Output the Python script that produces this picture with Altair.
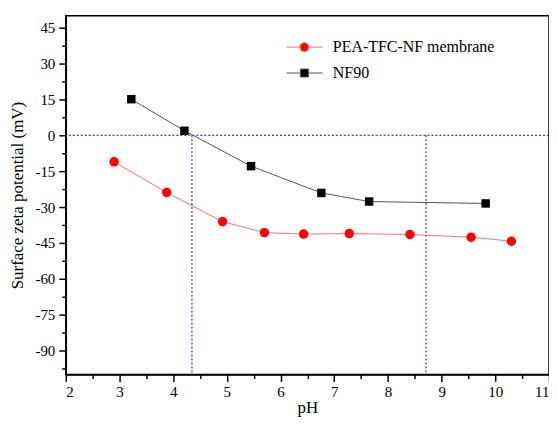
import altair as alt
import pandas as pd

series_names = ["PEA-TFC-NF membrane", "NF90"]
pea_ph = [2.90, 3.88, 4.92, 5.70, 6.43, 7.28, 8.41, 9.55, 10.30]
pea_zeta = [-11.1, -23.9, -36.1, -40.7, -41.3, -41.1, -41.5, -42.6, -44.3]
nf90_ph = [3.22, 4.21, 5.45, 6.76, 7.65, 9.82]
nf90_zeta = [15.1, 1.9, -12.9, -24.1, -27.7, -28.5]
zero_line = [0]
iep_ph = [4.35, 8.71]
x_ticks = [2 + 0.5 * i for i in range(19)]
y_ticks = [-97.5 + 7.5 * i for i in range(20)]

FONT = "Liberation Serif"

df = pd.DataFrame({
    "pH": pea_ph + nf90_ph,
    "zeta": pea_zeta + nf90_zeta,
    "series": [series_names[0]] * len(pea_ph) + [series_names[1]] * len(nf90_ph),
})

xscale = alt.Scale(domain=[2, 11], nice=False, zero=False)
yscale = alt.Scale(domain=[-100, 50], nice=False, zero=False)

common_axis = dict(
    labelFont=FONT, labelFontSize=15, labelColor="black",
    titleFont=FONT, titleFontSize=17, titleFontWeight="normal", titleColor="black",
    domainColor="black", domainWidth=1.5, tickColor="black", tickWidth=1.5, grid=False,
)

xaxis = alt.Axis(
    values=x_ticks,
    labelExpr="datum.value % 1 === 0 ? '' + datum.value : ''",
    tickSize={"condition": {"test": "datum.value % 1 === 0", "value": 7}, "value": 4},
    title="pH", titlePadding=0, labelPadding=3,
    **common_axis,
)
yaxis = alt.Axis(
    values=y_ticks,
    labelExpr="datum.value % 15 === 0 ? '' + datum.value : ''",
    tickSize={"condition": {"test": "datum.value % 15 === 0", "value": 7}, "value": 4},
    title="Surface zeta potential (mV)", titlePadding=8, labelPadding=4,
    **common_axis,
)

X = alt.X("pH:Q", scale=xscale, axis=xaxis)
Y = alt.Y("zeta:Q", scale=yscale, axis=yaxis)

base = alt.Chart(df)

hrule = alt.Chart(pd.DataFrame({"y": zero_line})).mark_rule(
    color="#0000ff", strokeDash=[2, 2], strokeWidth=1
).encode(y=alt.Y("y:Q", scale=yscale, axis=yaxis))

vrule = alt.Chart(pd.DataFrame({"x": iep_ph, "y": [0] * len(iep_ph), "y2": [-100] * len(iep_ph)})).mark_rule(
    color="#0000ff", strokeDash=[2, 2], strokeWidth=1
).encode(
    x=alt.X("x:Q", scale=xscale, axis=xaxis),
    y=alt.Y("y:Q", scale=yscale, axis=yaxis),
    y2="y2:Q",
)

pea_line = base.transform_filter(alt.datum.series == series_names[0]).mark_line(
    color="#ff7070", strokeWidth=1
).encode(x=X, y=Y)
nf_line = base.transform_filter(alt.datum.series == series_names[1]).mark_line(
    color="#555555", strokeWidth=1
).encode(x=X, y=Y)
pea_pts = base.transform_filter(alt.datum.series == series_names[0]).mark_circle(
    color="#ff0000", size=90, opacity=1
).encode(x=X, y=Y)
nf_pts = base.transform_filter(alt.datum.series == series_names[1]).mark_square(
    color="#000000", size=72, opacity=1
).encode(x=X, y=Y)

circle_path = "M-1.8,0L-0.45,0M0.45,0L1.8,0M0.45,0A0.45,0.45,0,1,1,-0.45,0A0.45,0.45,0,1,1,0.45,0Z"
square_path = "M-1.8,0L-0.4,0M0.4,0L1.8,0M-0.4,-0.4L0.4,-0.4L0.4,0.4L-0.4,0.4Z"

legend = alt.Legend(
    orient="none", legendX=229, legendY=21, title=None,
    labelFont=FONT, labelFontSize=16, labelColor="black", labelLimit=0,
    symbolSize=400, labelOffset=18, rowPadding=7, padding=0,
    symbolStrokeWidth=1,
)
legend_layer = base.transform_filter("false").mark_point(strokeWidth=1, opacity=1).encode(
    x=X, y=Y,
    fill=alt.Fill("series:N", scale=alt.Scale(domain=series_names, range=["#ff0000", "#000000"]), legend=legend),
    stroke=alt.Stroke("series:N", scale=alt.Scale(domain=series_names, range=["#ff7070", "#555555"]), legend=legend),
    shape=alt.Shape("series:N", scale=alt.Scale(domain=series_names, range=[circle_path, square_path]), legend=legend),
)

chart = alt.layer(hrule, vrule, pea_line, nf_line, pea_pts, nf_pts, legend_layer).properties(
    width=485, height=360,
    autosize=alt.AutoSizeParams(type="none"),
    padding={"left": 58, "top": 7, "right": 0, "bottom": 48},
).configure_view(
    stroke="black", strokeWidth=1.5
).configure_axis(**common_axis)

chart.save("out.html", embed_options={"renderer": "svg", "actions": False})
